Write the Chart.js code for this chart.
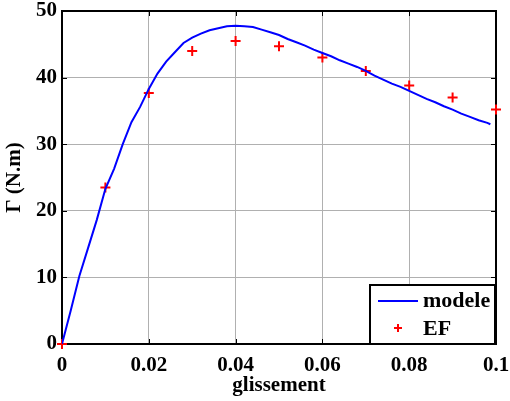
<!DOCTYPE html>
<html>
<head>
<meta charset="utf-8">
<script src="https://cdn.jsdelivr.net/npm/chart.js@4/dist/chart.umd.min.js"></script>
<style>
html,body{margin:0;padding:0;background:#fff;}
#wrap{position:relative;width:510px;height:401px;}
</style>
</head>
<body>
<div id="wrap"><canvas id="c" width="510" height="401"></canvas></div>
<script>
// ---- data ----
const xTickValues = [0, 0.02, 0.04, 0.06, 0.08, 0.1];
const yTickValues = [0, 10, 20, 30, 40, 50];
const xTitle = 'glissement';
const yTitle = 'Γ (N.m)';
const seriesNames = ['modele', 'EF'];

const modelSlip = [0, 0.002, 0.004, 0.006, 0.008, 0.010, 0.012, 0.014, 0.016, 0.018,
  0.020, 0.022, 0.024, 0.026, 0.028, 0.030, 0.032, 0.034, 0.036, 0.038,
  0.040, 0.042, 0.044, 0.046, 0.048, 0.050, 0.052, 0.054, 0.056, 0.058,
  0.060, 0.062, 0.064, 0.066, 0.068, 0.070, 0.072, 0.074, 0.076, 0.078,
  0.080, 0.082, 0.084, 0.086, 0.088, 0.090, 0.092, 0.094, 0.096, 0.098, 0.0987];
const modelTorque = [0, 5.0, 10.2, 14.4, 18.6, 23.3, 26.3, 30.0, 33.3, 35.6,
  38.3, 40.6, 42.4, 43.8, 45.2, 46.0, 46.6, 47.1, 47.4, 47.7,
  47.8, 47.7, 47.6, 47.2, 46.8, 46.4, 45.8, 45.3, 44.8, 44.2,
  43.7, 43.2, 42.6, 42.1, 41.6, 41.0, 40.3, 39.7, 39.1, 38.6,
  38.0, 37.4, 36.8, 36.3, 35.7, 35.2, 34.6, 34.1, 33.6, 33.2, 33.0];

const efSlip = [0, 0.01, 0.02, 0.03, 0.04, 0.05, 0.06, 0.07, 0.08, 0.09, 0.1];
const efTorque = [0, 23.5, 37.7, 44.0, 45.5, 44.7, 43.0, 41.0, 38.8, 37.0, 35.2];

// ---- chart ----
const FONT = '"Liberation Serif", "Times New Roman", serif';
const FS = 21;

const framePlugin = {
  id: 'frame',
  beforeDatasetsDraw(chart) {
    const {ctx, chartArea: a, scales} = chart;
    ctx.save();
    ctx.strokeStyle = '#000';
    ctx.lineWidth = 1;
    const tl = 5;
    xTickValues.forEach(v => {
      const px = Math.round(scales.x.getPixelForValue(v)) + 0.5;
      ctx.beginPath();
      ctx.moveTo(px, a.bottom); ctx.lineTo(px, a.bottom - tl);
      ctx.moveTo(px, a.top); ctx.lineTo(px, a.top + tl);
      ctx.stroke();
    });
    yTickValues.forEach(v => {
      const py = Math.round(scales.y.getPixelForValue(v)) + 0.5;
      ctx.beginPath();
      ctx.moveTo(a.left, py); ctx.lineTo(a.left + tl, py);
      ctx.moveTo(a.right, py); ctx.lineTo(a.right - tl, py);
      ctx.stroke();
    });
    ctx.lineWidth = 2;
    ctx.strokeRect(a.left, a.top, a.right - a.left, a.bottom - a.top);
    ctx.restore();
  },
  afterDraw(chart) {
    const {ctx, chartArea: a} = chart;
    const ds = chart.data.datasets;
    const w = 125, h = 59;
    const x0 = a.right - w - 1, y0 = a.bottom - h;
    ctx.save();
    ctx.fillStyle = '#fff';
    ctx.fillRect(x0, y0, w, h);
    ctx.strokeStyle = '#000';
    ctx.lineWidth = 2;
    ctx.strokeRect(x0, y0, w, h);
    ctx.strokeStyle = ds[0].borderColor;
    ctx.lineWidth = 2;
    ctx.beginPath();
    ctx.moveTo(x0 + 8, y0 + 16); ctx.lineTo(x0 + 48, y0 + 16);
    ctx.stroke();
    ctx.strokeStyle = ds[1].borderColor;
    ctx.beginPath();
    const cx = x0 + 28, cy = y0 + 43;
    ctx.moveTo(cx - 4, cy); ctx.lineTo(cx + 4, cy);
    ctx.moveTo(cx, cy - 4); ctx.lineTo(cx, cy + 4);
    ctx.stroke();
    ctx.fillStyle = '#000';
    ctx.font = 'bold ' + (FS + 1) + 'px ' + FONT;
    ctx.textBaseline = 'middle';
    ctx.textAlign = 'left';
    ctx.fillText(ds[0].label, x0 + 53, y0 + 16);
    ctx.fillText(ds[1].label, x0 + 53, y0 + 44);
    ctx.restore();
  }
};

function zeroPad(s) { s.paddingTop = 0; s.paddingBottom = 0; s.paddingLeft = 0; s.paddingRight = 0; }

new Chart(document.getElementById('c'), {
  type: 'scatter',
  data: {
    datasets: [
      {
        label: seriesNames[0],
        data: modelSlip.map((x, i) => ({x: x, y: modelTorque[i]})),
        showLine: true,
        borderColor: '#0000ff',
        backgroundColor: '#0000ff',
        borderWidth: 2,
        pointRadius: 0,
        tension: 0
      },
      {
        label: seriesNames[1],
        data: efSlip.map((x, i) => ({x: x, y: efTorque[i]})),
        showLine: false,
        borderColor: '#ff0000',
        backgroundColor: '#ff0000',
        pointStyle: 'cross',
        pointRadius: 5,
        borderWidth: 2,
        clip: false
      }
    ]
  },
  options: {
    responsive: false,
    animation: false,
    devicePixelRatio: 1,
    layout: {autoPadding: false, padding: {top: 11, right: 14, left: 0, bottom: 0}},
    plugins: {legend: {display: false}, tooltip: {enabled: false}},
    scales: {
      x: {
        type: 'linear', min: 0, max: 0.1,
        afterBuildTicks: s => { s.ticks = xTickValues.map(v => ({value: v})); },
        afterFit: s => { s.height = 57; zeroPad(s); },
        grid: {color: '#b0b0b0', lineWidth: 1, drawTicks: false},
        border: {display: false},
        ticks: {
          color: '#000', padding: 11,
          font: {family: FONT, size: FS, weight: 'bold', lineHeight: 1},
          maxRotation: 0,
          callback: v => String(parseFloat(Number(v).toFixed(2)))
        },
        title: {display: true, text: xTitle, color: '#000',
          font: {family: FONT, size: FS, weight: 'bold', lineHeight: 1},
          padding: {top: 0, bottom: 5}}
      },
      y: {
        type: 'linear', min: 0, max: 50,
        afterBuildTicks: s => { s.ticks = yTickValues.map(v => ({value: v})); },
        afterFit: s => { s.width = 62; zeroPad(s); },
        grid: {color: '#b0b0b0', lineWidth: 1, drawTicks: false},
        border: {display: false},
        ticks: {
          color: '#000', padding: 5,
          font: {family: FONT, size: FS, weight: 'bold', lineHeight: 1}
        },
        title: {display: true, text: yTitle, color: '#000',
          font: {family: FONT, size: FS, weight: 'bold', lineHeight: 1},
          padding: {top: 4, bottom: 0}}
      }
    }
  },
  plugins: [framePlugin]
});
</script>
</body>
</html>
